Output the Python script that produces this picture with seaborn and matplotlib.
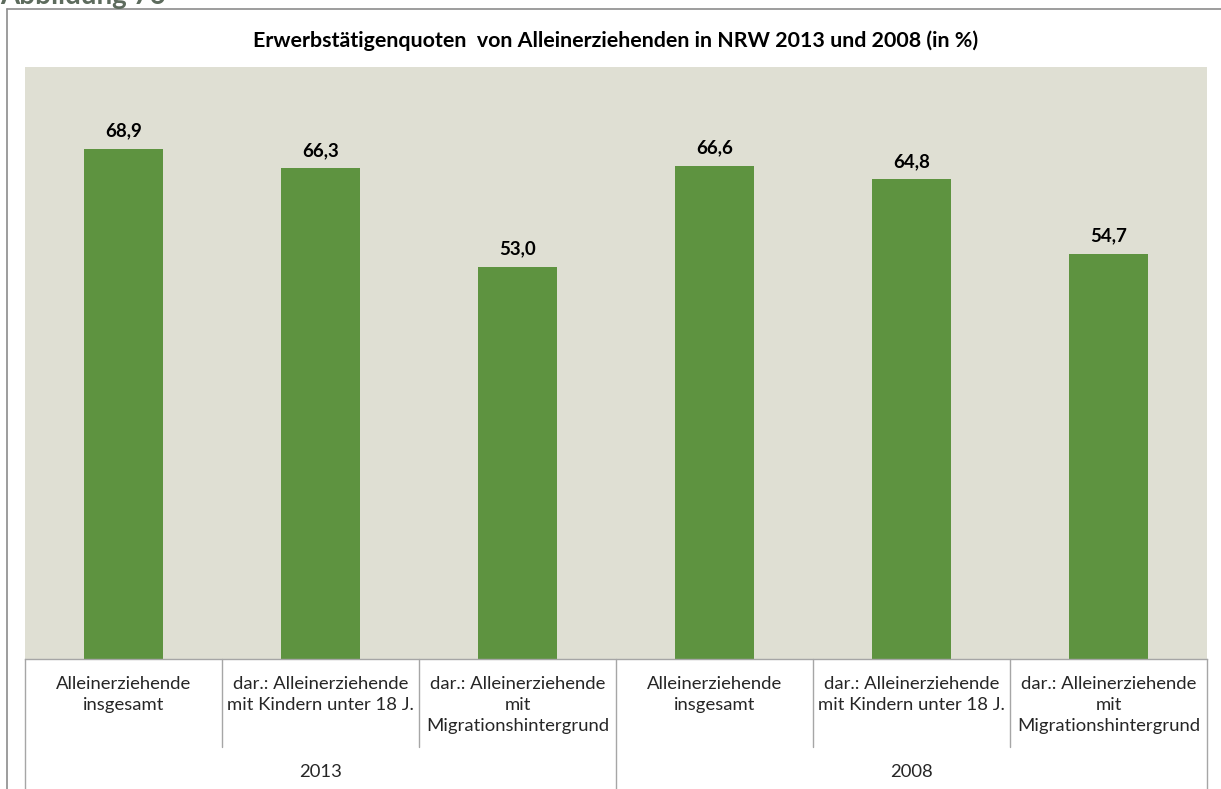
import matplotlib
matplotlib.use("Agg")
import matplotlib.pyplot as plt
import seaborn as sns
import pandas as pd
from matplotlib.lines import Line2D

# data
jahre = ["2013", "2008"]
gruppen = ["Alleinerziehende\ninsgesamt",
           "dar.: Alleinerziehende\nmit Kindern unter 18 J.",
           "dar.: Alleinerziehende\nmit\nMigrationshintergrund"]
quote_2013 = [68.9, 66.3, 53.0]
quote_2008 = [66.6, 64.8, 54.7]

rows = []
for jahr, werte in zip(jahre, [quote_2013, quote_2008]):
    for g, w in zip(gruppen, werte):
        rows.append({"jahr": jahr, "gruppe": g, "quote": w, "slot": jahr + "|" + g})
df = pd.DataFrame(rows)

sns.set_theme(style="white")
plt.rcParams["font.family"] = ["Lato", "DejaVu Sans"]

W, H = 1221, 789
fig = plt.figure(figsize=(W / 100, H / 100), dpi=100)
fig.patch.set_facecolor("white")

# axes placement in pixels
x0, x1, ytop, ybot = 25, 1207, 67, 659
ax = fig.add_axes([x0 / W, 1 - ybot / H, (x1 - x0) / W, (ybot - ytop) / H])
ax.set_facecolor("#dfdfd3")

sns.barplot(data=df, x="slot", y="quote", color="#5e9340", saturation=1,
            width=0.4, linewidth=0, ax=ax)
ax.set_ylim(0, 80)
ax.set_xlim(-0.5, len(df) - 0.5)
ax.set_xticks([])
ax.set_yticks([])
ax.set_xlabel("")
ax.set_ylabel("")
for s in ["top", "right", "left"]:
    ax.spines[s].set_visible(False)
ax.spines["bottom"].set_color("#a6a6a6")
ax.spines["bottom"].set_linewidth(1)

# value labels
for i, v in enumerate(df["quote"]):
    ax.text(i, v + 1.3, f"{v:.1f}".replace(".", ","), ha="center", va="bottom",
            fontsize=13.5, fontweight="bold", color="black")

# category table below the axes
def px2fig(px, py):
    return px / W, 1 - py / H

grey = "#a6a6a6"
n = len(df)
cell = (x1 - x0) / n
for i, g in enumerate(df["gruppe"]):
    cx = x0 + cell * (i + 0.5)
    fx, fy = px2fig(cx, 676)
    fig.text(fx, fy, g, ha="center", va="top", fontsize=13.3, color="#262626",
             linespacing=1.4)

for k in range(n + 1):
    lx = x0 + cell * k
    if k in (0, n, 3):
        y_end = H + 5
    else:
        y_end = 747
    fig.add_artist(Line2D([lx / W, lx / W], [1 - ybot / H, 1 - y_end / H],
                          color=grey, lw=1))

for j, jahr in enumerate(jahre):
    cx = x0 + cell * (3 * j + 1.5)
    fx, fy = px2fig(cx, 772)
    fig.text(fx, fy, jahr, ha="center", va="center", fontsize=13.3, color="#262626")

# outer chart frame
fig.add_artist(Line2D([7 / W, 7 / W], [1 - 9 / H, 0], color="#8c8c8c", lw=1.2))
fig.add_artist(Line2D([7 / W, 1], [1 - 9 / H, 1 - 9 / H], color="#8c8c8c", lw=1.2))

# cut-off figure caption at the very top
fig.text(0.0, 1 - 4 / H, "Abbildung 76", ha="left", va="baseline", fontsize=20,
         fontweight="bold", color="#5d6b5d")

fx, fy = px2fig(616, 41)
fig.text(fx, fy, "Erwerbstätigenquoten  von Alleinerziehenden in NRW 2013 und 2008 (in %)",
         ha="center", va="center", fontsize=15.4, fontweight="bold", color="black")

fig.savefig("out.png", dpi=100)
